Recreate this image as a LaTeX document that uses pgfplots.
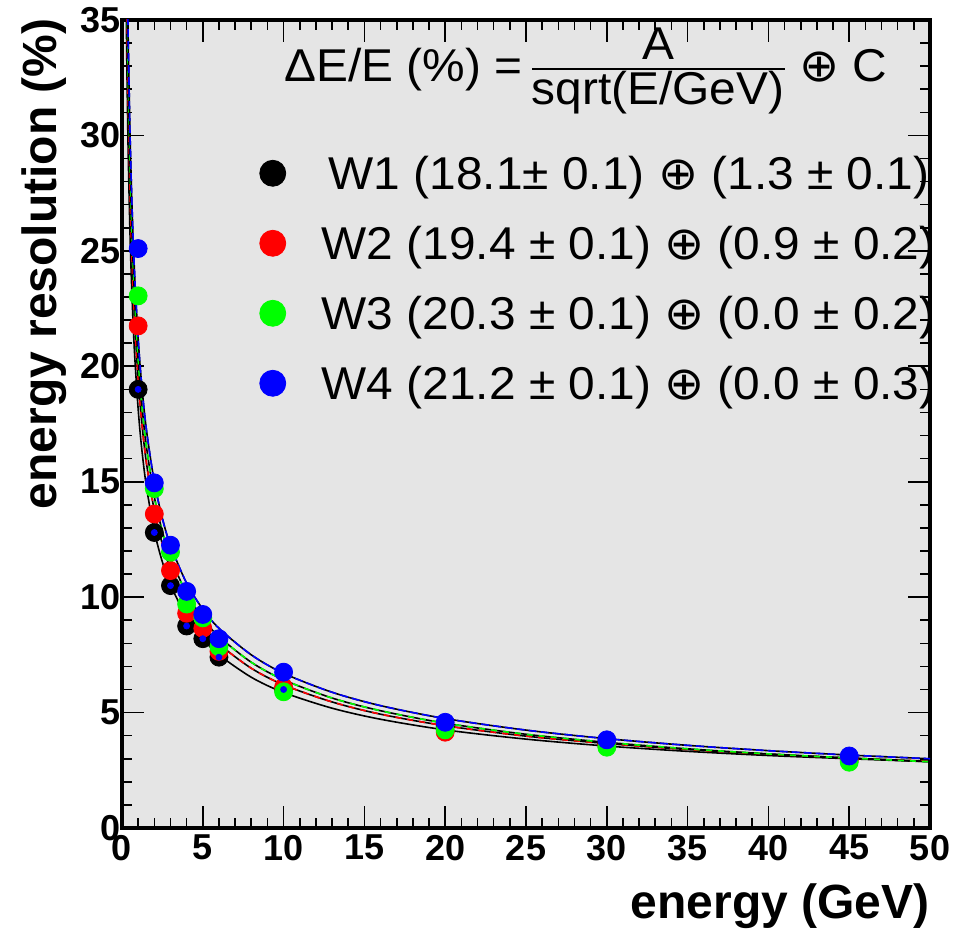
\documentclass[border=0pt]{standalone}
\usepackage{fontspec}
\setmainfont{Liberation Sans}
\newfontfamily\dejavu{DejaVu Sans}
\newfontfamily\legfont[FakeStretch=1.04]{Liberation Sans}
\newfontfamily\legsym[FakeStretch=1.04]{DejaVu Sans}
\usepackage{pgfplots}
\usepackage{pgfplotstable}
\pgfplotsset{compat=1.18}
\definecolor{bggray}{RGB}{229,229,229}
\definecolor{rred}{RGB}{255,0,0}
\definecolor{rgreen}{RGB}{0,255,0}
\definecolor{rblue}{RGB}{0,0,255}

\pgfplotstableread{
E W1 W2 W3 W4
1 19.0 21.75 23.05 25.1
2 12.8 13.6 14.7 14.95
3 10.5 11.15 11.95 12.25
4 8.75 9.3 9.7 10.25
5 8.2 8.65 9.1 9.25
6 7.4 7.65 7.85 8.2
10 6.0 6.1 5.9 6.75
20 4.4 4.15 4.25 4.58
30 3.65 3.6 3.5 3.82
45 3.0 2.95 2.85 3.12
}\points

\pgfplotstableread{
E F1 F2 F3 F4
0.25 36.22 38.81 40.60 42.40
0.3 33.07 35.43 37.06 38.71
0.35 30.62 32.80 34.31 35.84
0.4 28.65 30.69 32.10 33.52
0.5 25.63 27.45 28.71 29.98
0.6 23.40 25.06 26.21 27.37
0.7 21.67 23.20 24.26 25.34
0.8 20.28 21.71 22.70 23.70
1 18.15 19.42 20.30 21.20
1.2 16.57 17.73 18.53 19.35
1.5 14.84 15.87 16.58 17.31
2 12.86 13.75 14.35 14.99
2.5 11.52 12.30 12.84 13.41
3 10.53 11.24 11.72 12.24
4 9.14 9.74 10.15 10.60
5 8.20 8.72 9.08 9.48
6 7.50 7.97 8.29 8.65
8 6.53 6.92 7.18 7.50
10 5.87 6.20 6.42 6.70
13 5.19 5.46 5.63 5.88
16 4.71 4.93 5.08 5.30
20 4.25 4.43 4.54 4.74
25 3.85 3.98 4.06 4.24
30 3.55 3.66 3.71 3.87
35 3.32 3.40 3.43 3.58
40 3.14 3.20 3.21 3.35
45 3.00 3.03 3.03 3.16
50 2.87 2.89 2.87 3.00
}\fits

\pgfplotsset{
  rmark/.style={only marks, mark=*, mark size=4.5pt,
    legend image code/.code={\draw[##1, mark size=6.5pt] plot coordinates {(0pt,0pt)};}},
  fitline/.style={no marks, smooth, line width=0.8pt},
}

\begin{document}
\begin{tikzpicture}
\useasboundingbox (-61pt,-54pt) rectangle (425pt,414pt);
\begin{axis}[
  scale only axis, width=404pt, height=404pt,
  xmin=0, xmax=50, ymin=0, ymax=35,
  axis background/.style={fill=bggray},
  axis line style={line width=2pt},
  xtick={0,5,...,50}, ytick={0,5,...,35},
  minor x tick num=4, minor y tick num=4,
  tick align=inside,
  major tick length=11pt, minor tick length=5pt,
  tick style={black, line width=0.8pt},
  /pgf/number format/assume math mode=true,
  xticklabel style={font=\bfseries\fontsize{18}{18}\selectfont},
  yticklabel style={font=\bfseries\fontsize{18}{18}\selectfont, xshift=3pt},
  xlabel={energy (GeV)},
  ylabel={energy resolution (\%)},
  xlabel style={at={(axis description cs:1,-0.1126)}, anchor=base east, inner sep=0pt, font=\bfseries\fontsize{24}{24}\selectfont},
  ylabel style={at={(axis description cs:-0.0805,1.0025)}, anchor=base east, inner sep=0pt, font=\bfseries\fontsize{24}{24}\selectfont},
  legend cell align=left,
  legend style={at={(axis cs:8.50,29.33)}, anchor=north west, draw=none, fill=none,
    inner sep=0pt, row sep=13pt, font=\legfont\fontsize{23}{23}\selectfont,
    nodes={inner sep=0pt, text height=19pt, text depth=3pt},
    /tikz/every odd column/.append style={column sep=18pt}},
]
\addplot[rmark, black] table[x=E,y=W1]{\points};
\addplot[rmark, rred] table[x=E,y=W2]{\points};
\addplot[rmark, rgreen] table[x=E,y=W3]{\points};
\addplot[rmark, rblue] table[x=E,y=W4]{\points};
\addplot[only marks, mark=*, mark size=1.5pt, rblue, forget plot] table[x=E,y=W1]{\points};

\addplot[fitline, black, forget plot] table[x=E,y=F1]{\fits};
\addplot[fitline, black, forget plot] table[x=E,y=F2]{\fits};
\addplot[fitline, rred, dash pattern=on 3pt off 3pt, forget plot] table[x=E,y=F2]{\fits};
\addplot[fitline, black, forget plot] table[x=E,y=F3]{\fits};
\addplot[fitline, rgreen, dash pattern=on 3pt off 3pt, forget plot] table[x=E,y=F3]{\fits};
\addplot[fitline, black, forget plot] table[x=E,y=F4]{\fits};
\addplot[fitline, rblue, dash pattern=on 4pt off 2pt, forget plot] table[x=E,y=F4]{\fits};

\legend{\hspace{3.5pt}W1 (18.1± 0.1) {\legsym ⊕} (1.3 ± 0.1),
        W2 (19.4 ± 0.1) {\legsym ⊕} (0.9 ± 0.2),
        W3 (20.3 ± 0.1) {\legsym ⊕} (0.0 ± 0.2),
        W4 (21.2 ± 0.1) {\legsym ⊕} (0.0 ± 0.3)}
\end{axis}
\begin{scope}[every node/.style={inner sep=0pt, font=\legfont\fontsize{23}{23}\selectfont}]
\node[anchor=base west] at (81pt,373.2pt) {ΔE/E (\%) =};
\node[anchor=base] at (268pt,384pt) {A};
\draw[line width=1.2pt] (205pt,379.5pt) -- (331.5pt,379.5pt);
\node[anchor=base] at (268pt,361.5pt) {sqrt(E/GeV)};
\node[anchor=base west] at (338.5pt,373.2pt) {{\legsym ⊕} C};
\end{scope}
\end{tikzpicture}
\end{document}
